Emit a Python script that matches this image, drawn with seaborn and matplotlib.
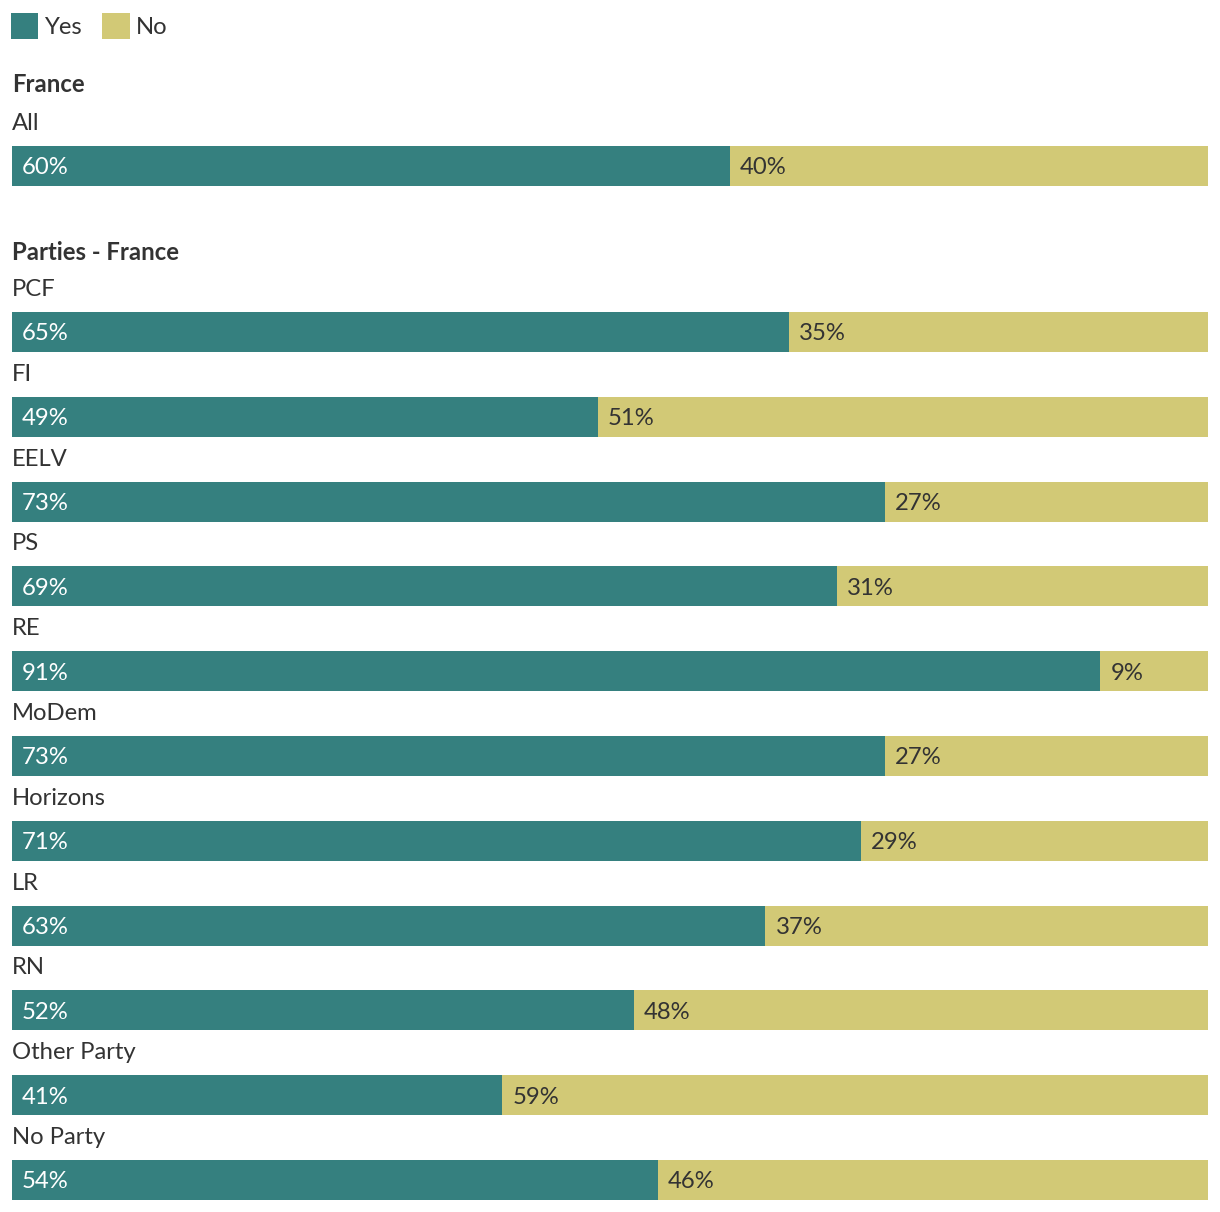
import numpy as np
import pandas as pd
import matplotlib.pyplot as plt
import seaborn as sns

# data
all_group = ['All']
all_yes = [60]
all_no = [40]

parties = ['PCF', 'FI', 'EELV', 'PS', 'RE', 'MoDem', 'Horizons', 'LR', 'RN',
           'Other Party', 'No Party']
party_yes = [65, 49, 73, 69, 91, 73, 71, 63, 52, 41, 54]
party_no = [35, 51, 27, 31, 9, 27, 29, 37, 48, 59, 46]

teal = '#35807f'
khaki = '#d2c976'
dark = '#333333'

sns.set_theme(style='white')
plt.rcParams['font.family'] = ['Lato', 'DejaVu Sans']

W, H = 1220, 1212
fig = plt.figure(figsize=(W / 100, H / 100), dpi=100)
FS = 17.2
step = 84.8  # pixels between bar centres


def stacked(ax, cats, yes, no):
    df = pd.DataFrame({'cat': cats, 'yes': yes, 'no': no})
    df['total'] = df['yes'] + df['no']
    sns.barplot(data=df, x='total', y='cat', orient='h', order=cats, color=khaki,
                saturation=1, width=40 / step, label='No', linewidth=0, ax=ax)
    sns.barplot(data=df, x='yes', y='cat', orient='h', order=cats, color=teal,
                saturation=1, width=40 / step, label='Yes', linewidth=0, ax=ax)
    for i, (c, y, n) in enumerate(zip(cats, yes, no)):
        ax.text(0, i - 0.525, c, va='center_baseline', ha='left', fontsize=FS, color=dark)
        ax.annotate('%d%%' % y, (0, i), xytext=(7.2, 0), textcoords='offset points',
                    va='center_baseline', ha='left', fontsize=FS, color='white')
        ax.annotate('%d%%' % n, (y, i), xytext=(7.2, 0), textcoords='offset points',
                    va='center_baseline', ha='left', fontsize=FS, color=dark)
    ax.set_xlim(0, 100)
    ax.set_xlabel('')
    ax.set_ylabel('')
    ax.set_xticks([])
    ax.set_yticks([])
    sns.despine(ax=ax, left=True, bottom=True)
    if ax.get_legend() is not None:
        ax.get_legend().remove()


left = 12 / W
width = 1196 / W

# France block
ax1 = fig.add_axes([left, (H - (166 + step / 2)) / H, width, step / H])
stacked(ax1, all_group, all_yes, all_no)
ax1.set_ylim(0.5, -0.5)

# Parties block
top_px = 332 - 0.6 * step
bot_px = 332 + 10.3 * step
ax2 = fig.add_axes([left, (H - bot_px) / H, width, (bot_px - top_px) / H])
stacked(ax2, parties, party_yes, party_no)
ax2.set_ylim(10.3, -0.6)

fig.text(12 / W, 1 - 83 / H, 'France', va='center_baseline', ha='left', fontsize=FS,
         fontweight='bold', color=dark)
fig.text(12 / W, 1 - 251 / H, 'Parties - France', va='center_baseline', ha='left',
         fontsize=FS, fontweight='bold', color=dark)

handles, labels = ax1.get_legend_handles_labels()
fig.legend(handles[::-1], labels[::-1], loc='upper left',
           bbox_to_anchor=(11 / W, 1 - 13 / H), ncol=2, frameon=False,
           borderpad=0, borderaxespad=0, handlelength=1.15, handleheight=1.3,
           handletextpad=0.25, columnspacing=0.85, fontsize=FS,
           labelcolor=dark)

fig.savefig('out.png', dpi=100)
